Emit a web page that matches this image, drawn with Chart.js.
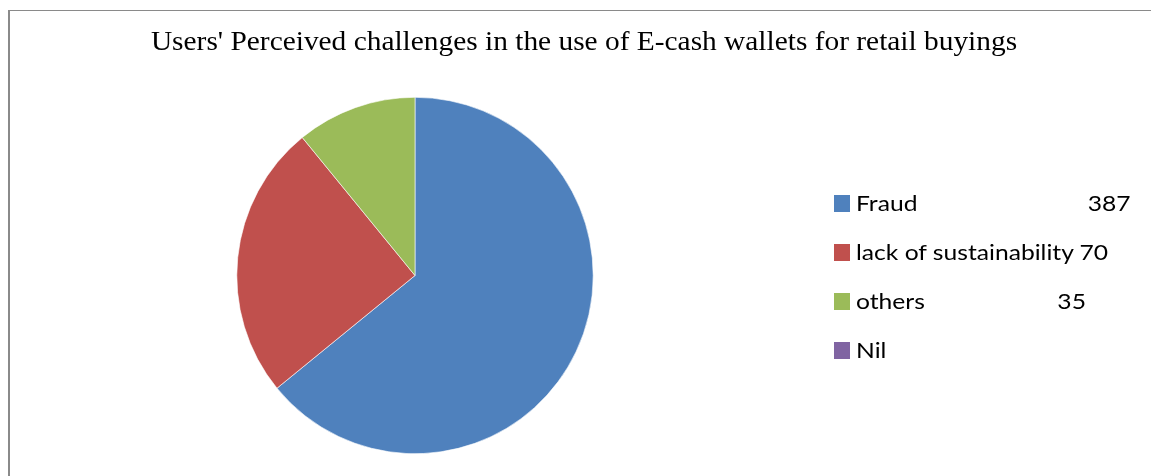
<!DOCTYPE html>
<html>
<head>
<meta charset="utf-8">
<script src="https://cdn.jsdelivr.net/npm/chart.js@4.4.1/dist/chart.umd.min.js"></script>
<style>
    html, body { margin: 0; padding: 0; background: #fff; }
    #wrap { position: relative; width: 1151px; height: 476px; overflow: hidden; }
    #frame { position: absolute; left: 8px; top: 10px; width: 1200px; height: 500px;
             border-left: 2px solid #8a8a8a; border-top: 1px solid #8a8a8a; }
    #chart { position: absolute; left: 0; top: 0; }
    #title { position: absolute; left: 0; top: 26px; width: 1168px; text-align: center;
             font-family: "Liberation Serif", serif; font-size: 26.6px; color: #000; white-space: nowrap;
             transform: scaleX(1.105); transform-origin: 584px 0; }
    #legend { position: absolute; left: 834px; top: 189px; margin: 0; padding: 0; list-style: none;
              font-family: Lato, sans-serif; font-size: 22px; color: #000; }
    #legend li { height: 49px; display: flex; align-items: flex-start; white-space: pre; }
    #legend .box { width: 16px; height: 17px; margin: 6px 6px 0 0; flex: none; }
    #legend .txt { display: inline-block; transform: scaleX(1.12); transform-origin: 0 0; }
</style>
</head>
<body>
<div id="wrap">
    <div id="frame"></div>
    <canvas id="chart" width="1151" height="476"></canvas>
    <div id="title"></div>
    <ul id="legend"></ul>
</div>
<script>
// 图表数据
const chartTitle = "Users' Perceived challenges in the use of E-cash wallets for retail buyings";
const categories = ['Fraud', 'lack of sustainability', 'others', 'Nil'];
// 图例里的数字（原图里是用空格排开的）
const legendCounts = ['387', '70', '35', ''];
const legendGaps = ['                           ', ' ', '                     ', ''];
// 扇区大小（按图上的角度读出的百分比）
const sliceValues = [64.1, 25.0, 10.9, 0];
const sliceColors = ['#4F81BD', '#C0504D', '#9BBB59', '#8064A2'];

document.getElementById('title').textContent = chartTitle;

// 图例
const legend = document.getElementById('legend');
categories.forEach(function(name, i) {
    const li = document.createElement('li');
    const box = document.createElement('span');
    box.className = 'box';
    box.style.background = sliceColors[i];
    const txt = document.createElement('span');
    txt.className = 'txt';
    txt.textContent = name + legendGaps[i] + legendCounts[i];
    li.appendChild(box);
    li.appendChild(txt);
    legend.appendChild(li);
});

new Chart(document.getElementById('chart'), {
    type: 'pie',
    data: {
        labels: categories,
        datasets: [{
            data: sliceValues,
            backgroundColor: sliceColors,
            borderColor: '#ffffff',
            borderWidth: 0.6,
            hoverOffset: 0
        }]
    },
    options: {
        responsive: false,
        animation: false,
        layout: {
            padding: { left: 236, right: 557, top: 97, bottom: 22 }
        },
        plugins: {
            legend: { display: false },
            title: { display: false },
            tooltip: { enabled: false }
        }
    }
});
</script>
</body>
</html>
